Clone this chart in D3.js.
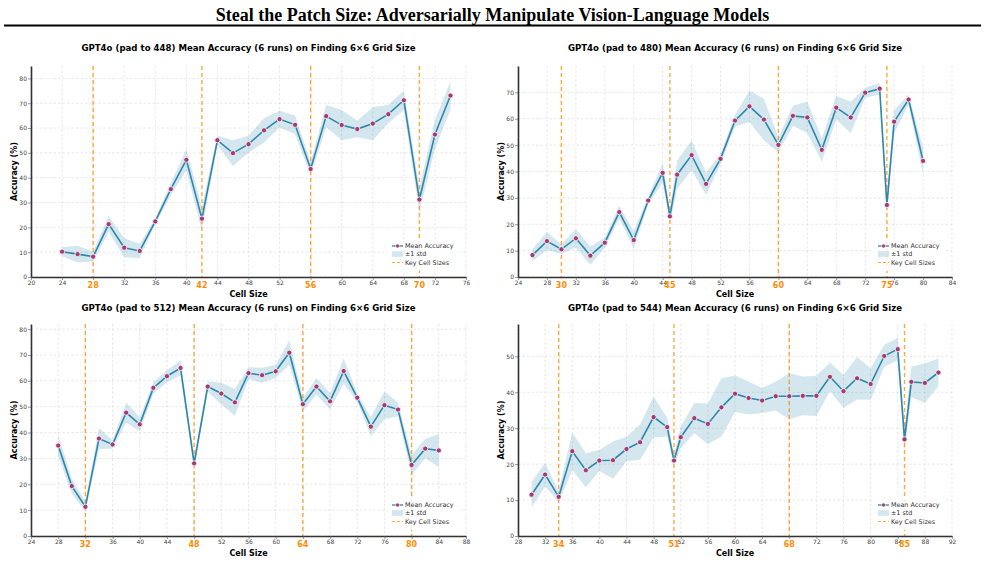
<!DOCTYPE html>
<html>
<head>
<meta charset="utf-8">
<script src="https://cdn.jsdelivr.net/npm/d3@7"></script>
<style>
  body { margin: 0; background: #fff; }
  svg { display: block; font-family: "DejaVu Sans", sans-serif; }
</style>
</head>
<body>
<svg id="fig" width="985" height="576"></svg>
<script>
// ---- data ----
const cells448 = [24,26,28,30,32,34,36,38,40,42,44,46,48,50,52,54,56,58,60,62,64,66,68,70,72,74];
const mean448  = [10.2,9.2,8.2,21.3,11.8,10.5,22.4,35.4,47.2,23.5,55.1,49.9,53.5,59.1,63.6,61.3,43.5,64.8,61.2,59.6,61.8,65.6,71.2,31.2,57.4,73.1];
const std448   = [1.8,3.4,2.0,3.2,3.8,2.9,1.2,2.5,4.3,4.7,1.8,5.2,3.4,4.9,3.4,3.8,2.7,4.5,6.1,3.3,6.7,3.7,3.9,5.0,5.8,5.7];
const keys448  = [28,42,56,70];

const cells480 = [26,28,30,32,34,36,38,40,42,44,45,46,48,50,52,54,56,58,60,62,64,66,68,70,72,74,75,76,78,80];
const mean480  = [8.3,13.6,10.5,14.7,8.1,13.0,24.6,14.0,29.0,39.5,23.0,38.8,46.2,35.3,44.8,59.3,64.7,59.7,50.1,61.1,60.5,48.2,64.2,60.5,69.9,71.4,27.3,58.9,67.3,44.0];
const std480   = [2.2,3.5,1.8,3.5,3.5,1.9,2.4,3.3,1.5,3.6,2.9,5.4,5.6,4.2,1.9,2.2,5.9,7.9,2.8,3.8,6.0,4.4,4.5,5.9,1.9,2.2,3.2,4.4,1.9,5.0];
const keys480  = [30,45,60,75];

const cells512 = [28,30,32,34,36,38,40,42,44,46,48,50,52,54,56,58,60,62,64,66,68,70,72,74,76,78,80,82,84];
const mean512  = [35.0,19.3,11.3,37.7,35.4,47.7,43.2,57.3,61.8,65.0,28.1,57.8,55.1,51.7,63.0,62.2,63.7,70.9,51.0,57.8,52.1,63.8,53.5,42.3,50.6,48.9,27.5,33.8,33.1];
const std512   = [4.2,2.9,2.0,4.1,1.6,3.9,2.7,2.3,2.3,2.9,2.3,2.0,4.2,5.2,2.3,2.9,2.5,4.8,2.6,3.2,3.2,4.9,1.5,3.7,5.3,2.6,3.9,3.7,6.4];
const keys512  = [32,48,64,80];

const cells544 = [30,32,34,36,38,40,42,44,46,48,50,51,52,54,56,58,60,62,64,66,68,70,72,74,76,78,80,82,84,85,86,88,90];
const mean544  = [11.5,17.1,10.9,23.6,18.3,21.0,21.1,24.2,26.1,33.1,30.3,21.0,27.5,32.8,31.2,35.8,39.6,38.4,37.7,38.9,38.9,39.0,39.0,44.3,40.3,43.9,42.3,50.1,52.0,26.9,42.9,42.6,45.5];
const std544   = [3.5,3.3,1.6,5.2,4.7,2.9,5.2,3.4,4.9,5.7,2.6,1.5,3.0,4.2,5.7,8.1,5.1,4.6,3.5,4.0,6.4,5.4,5.6,4.0,4.6,5.9,4.4,3.1,3.1,3.3,4.3,5.5,3.9];
const keys544  = [34,51,68,85];

const legendLabels = ["Mean Accuracy", "\u00b11 std", "Key Cell Sizes"];

// ---- colours ----
const lineColor = "#2E86AB";
const markColor = "#A23B72";
const keyColor = "#ff8c00";

const svg = d3.select("#fig");

// page heading
svg.append("text")
  .attr("x", 492.5).attr("y", 20.5)
  .attr("text-anchor", "middle")
  .style("font-family", "'Liberation Serif', serif")
  .style("font-weight", "bold")
  .style("font-size", "18px")
  .text("Steal the Patch Size: Adversarially Manipulate Vision-Language Models");
svg.append("line")
  .attr("x1", 4).attr("x2", 981).attr("y1", 25.5).attr("y2", 25.5)
  .attr("stroke", "#000").attr("stroke-width", 2);

const panels = [
  {pad: 448, cells: cells448, mean: mean448, std: std448, keys: keys448,
   xDom: [20, 76], yDom: [0, 85], yMax: 80, x0: 31, x1: 466, y0: 66, y1: 277, titleY: 51, ylabX: 14},
  {pad: 480, cells: cells480, mean: mean480, std: std480, keys: keys480,
   xDom: [24, 84], yDom: [0, 80], yMax: 70, x0: 518, x1: 952, y0: 66, y1: 277, titleY: 51, ylabX: 501},
  {pad: 512, cells: cells512, mean: mean512, std: std512, keys: keys512,
   xDom: [24, 88], yDom: [0, 82], yMax: 80, x0: 31, x1: 466, y0: 324, y1: 536, titleY: 311, ylabX: 14},
  {pad: 544, cells: cells544, mean: mean544, std: std544, keys: keys544,
   xDom: [28, 92], yDom: [0, 59], yMax: 50, x0: 518, x1: 952, y0: 324, y1: 536, titleY: 311, ylabX: 501}
];

panels.forEach(function (p) {
  let g = svg.append("g");
  let x = d3.scaleLinear().domain(p.xDom).range([p.x0, p.x1]);
  let y = d3.scaleLinear().domain(p.yDom).range([p.y1, p.y0]);

  let xTicks = d3.range(p.xDom[0], p.xDom[1] + 1, 4);
  let yTicks = d3.range(0, p.yMax + 1, 10);

  let data = p.cells.map(function (c, i) {
    return {c: c, m: p.mean[i], s: p.std[i]};
  });

  // grid
  g.selectAll(".gx").data(xTicks).join("line")
    .attr("x1", d => x(d)).attr("x2", d => x(d))
    .attr("y1", p.y0).attr("y2", p.y1)
    .attr("stroke", "#d9d9d9").attr("stroke-width", 0.6)
    .attr("stroke-dasharray", "2.5,2");
  g.selectAll(".gy").data(yTicks).join("line")
    .attr("x1", p.x0).attr("x2", p.x1)
    .attr("y1", d => y(d)).attr("y2", d => y(d))
    .attr("stroke", "#d9d9d9").attr("stroke-width", 0.6)
    .attr("stroke-dasharray", "2.5,2");

  // ±1 std band
  let band = d3.area()
    .x(d => x(d.c))
    .y0(d => y(d.m - d.s))
    .y1(d => y(d.m + d.s));
  g.append("path").datum(data)
    .attr("d", band)
    .attr("fill", lineColor).attr("fill-opacity", 0.2);

  // key cell sizes
  g.selectAll(".key").data(p.keys).join("line")
    .attr("x1", d => x(d)).attr("x2", d => x(d))
    .attr("y1", p.y0).attr("y2", p.y1)
    .attr("stroke", keyColor).attr("stroke-opacity", 0.75)
    .attr("stroke-width", 1.4).attr("stroke-dasharray", "4,3");

  // mean line + markers
  let line = d3.line().x(d => x(d.c)).y(d => y(d.m));
  g.append("path").datum(data)
    .attr("d", line)
    .attr("fill", "none").attr("stroke", lineColor).attr("stroke-width", 1.6);
  g.selectAll(".pt").data(data).join("circle")
    .attr("cx", d => x(d.c)).attr("cy", d => y(d.m))
    .attr("r", 2.6)
    .attr("fill", markColor).attr("stroke", "#fff").attr("stroke-width", 0.8);

  // axes
  let xAxis = g.append("g")
    .attr("transform", `translate(0, ${p.y1})`)
    .call(d3.axisBottom(x).tickValues(xTicks).tickSize(3).tickSizeOuter(0)
      .tickFormat(d => p.keys.includes(d) ? "" : d));
  let yAxis = g.append("g")
    .attr("transform", `translate(${p.x0}, 0)`)
    .call(d3.axisLeft(y).tickValues(yTicks).tickSize(3).tickSizeOuter(0));
  [xAxis, yAxis].forEach(function (a) {
    a.select(".domain").attr("stroke", "#333").attr("stroke-width", 1.6);
    a.selectAll(".tick line").attr("stroke", "#555").attr("stroke-width", 0.6);
    a.selectAll(".tick text")
      .attr("fill", "#444")
      .style("font-family", "'DejaVu Sans', sans-serif")
      .style("font-size", "6px");
  });
  xAxis.selectAll(".tick text").attr("dy", "0.6em").attr("y", 4);
  yAxis.selectAll(".tick text").attr("x", -4);

  // orange key tick labels
  g.selectAll(".klab").data(p.keys).join("text")
    .attr("x", d => x(d)).attr("y", p.y1 + 10.5)
    .attr("text-anchor", "middle")
    .attr("fill", keyColor)
    .style("font-weight", "bold").style("font-size", "8px")
    .text(d => d);

  // labels
  g.append("text")
    .attr("x", (p.x0 + p.x1) / 2).attr("y", p.titleY)
    .attr("text-anchor", "middle")
    .style("font-weight", "bold").style("font-size", "8.6px")
    .text(`GPT4o (pad to ${p.pad}) Mean Accuracy (6 runs) on Finding 6\u00d76 Grid Size`);
  g.append("text")
    .attr("x", (p.x0 + p.x1) / 2).attr("y", p.y1 + 19.5)
    .attr("text-anchor", "middle")
    .style("font-weight", "bold").style("font-size", "8px")
    .text("Cell Size");
  g.append("text")
    .attr("transform", `translate(${p.ylabX + 3}, ${(p.y0 + p.y1) / 2}) rotate(-90)`)
    .attr("text-anchor", "middle")
    .style("font-weight", "bold").style("font-size", "8px")
    .text("Accuracy (%)");

  // legend
  let lg = g.append("g").attr("transform", `translate(${p.x1 - 78}, ${p.y1 - 37})`);
  lg.append("rect").attr("width", 72).attr("height", 31)
    .attr("fill", "#fff").attr("fill-opacity", 0.8);
  let rows = [6, 14, 22.5];
  lg.append("line").attr("x1", 4).attr("x2", 15).attr("y1", rows[0]).attr("y2", rows[0])
    .attr("stroke", lineColor).attr("stroke-width", 1.3);
  lg.append("circle").attr("cx", 9.5).attr("cy", rows[0]).attr("r", 2)
    .attr("fill", markColor).attr("stroke", "#fff").attr("stroke-width", 0.6);
  lg.append("rect").attr("x", 4).attr("y", rows[1] - 2.8).attr("width", 11).attr("height", 5.6)
    .attr("fill", lineColor).attr("fill-opacity", 0.2);
  lg.append("line").attr("x1", 4).attr("x2", 15).attr("y1", rows[2]).attr("y2", rows[2])
    .attr("stroke", keyColor).attr("stroke-opacity", 0.75)
    .attr("stroke-width", 1.2).attr("stroke-dasharray", "3,2");
  lg.selectAll(".lt").data(legendLabels).join("text")
    .attr("x", 17).attr("y", (d, i) => rows[i])
    .attr("dy", "0.35em")
    .attr("fill", "#333")
    .style("font-size", "6.4px")
    .text(d => d);
});
</script>
</body>
</html>
